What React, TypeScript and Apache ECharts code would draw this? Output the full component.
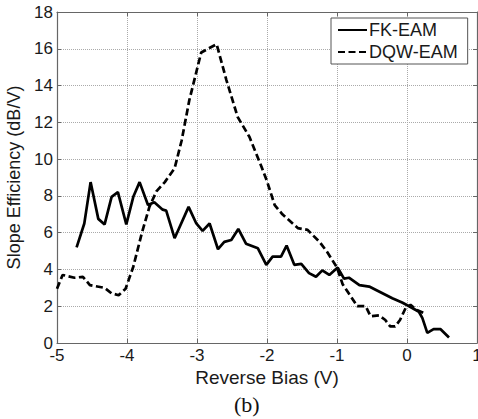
import React, { useEffect, useRef } from "react";
import * as echarts from "echarts";

const fkX = [-4.72, -4.61, -4.52, -4.41, -4.32, -4.22, -4.13, -4.01, -3.91, -3.82, -3.7, -3.61, -3.49, -3.44, -3.32, -3.12, -3.01, -2.92, -2.82, -2.7, -2.61, -2.51, -2.41, -2.3, -2.13, -2.01, -1.92, -1.8, -1.72, -1.61, -1.51, -1.4, -1.3, -1.21, -1.11, -0.99, -0.9, -0.83, -0.68, -0.54, -0.4, -0.21, -0.07, 0.03, 0.17, 0.22, 0.29, 0.38, 0.48, 0.6];
const fkY = [5.2, 6.5, 8.75, 6.75, 6.45, 7.95, 8.2, 6.45, 7.95, 8.75, 7.5, 7.65, 7.25, 7.2, 5.7, 7.4, 6.5, 6.1, 6.5, 5.1, 5.5, 5.6, 6.2, 5.4, 5.15, 4.25, 4.7, 4.7, 5.3, 4.25, 4.3, 3.8, 3.6, 3.95, 3.7, 4.1, 3.5, 3.55, 3.15, 3.07, 2.8, 2.43, 2.2, 2.0, 1.7, 1.35, 0.55, 0.75, 0.75, 0.3];

const dqwX = [-5.0, -4.92, -4.75, -4.63, -4.53, -4.32, -4.22, -4.12, -4.02, -3.91, -3.79, -3.68, -3.58, -3.46, -3.32, -3.22, -3.11, -2.94, -2.72, -2.58, -2.42, -2.25, -2.08, -2.0, -1.89, -1.78, -1.56, -1.42, -1.25, -1.14, -1.0, -0.92, -0.71, -0.59, -0.52, -0.4, -0.31, -0.24, -0.17, -0.1, -0.02, 0.05, 0.14, 0.26];
const dqwY = [2.95, 3.7, 3.55, 3.6, 3.15, 3.0, 2.7, 2.6, 2.95, 4.15, 5.95, 7.4, 8.25, 8.75, 9.5, 11.0, 13.2, 15.8, 16.25, 14.3, 12.3, 11.2, 9.6, 8.8, 7.5, 7.0, 6.25, 6.15, 5.5, 4.95, 4.1, 3.2, 2.0, 2.0, 1.45, 1.5, 1.25, 0.9, 0.9, 1.25, 1.9, 2.07, 1.8, 1.6];

const seriesNames = ["FK-EAM", "DQW-EAM"];
const xTitle = "Reverse Bias (V)";
const yTitle = "Slope Efficiency (dB/V)";
const caption = "(b)";

const FONT = "Liberation Sans, Arial, sans-serif";
const TXT = "#1a1a1a";
const AX = "#666";

export default function App() {
  const ref = useRef<HTMLDivElement>(null);
  useEffect(() => {
    if (!ref.current) return;
    const chart = echarts.init(ref.current, null, { renderer: "svg" });
    const axisLine = { show: true, onZero: false, lineStyle: { color: AX, width: 1.2 } };
    const tick = { show: true, inside: true, length: 4, lineStyle: { color: AX } };
    const split = { show: true, lineStyle: { color: "#aaa", type: "dotted", width: 1 } };
    chart.setOption({
      animation: false,
      backgroundColor: "#fff",
      textStyle: { fontFamily: FONT },
      grid: { left: 57, top: 12, right: 1, bottom: 76, containLabel: false, outerBoundsMode: "none" },
      legend: {
        orient: "vertical",
        left: 331,
        top: 18,
        padding: [3, 10, 3, 6],
        itemGap: 4,
        itemWidth: 29,
        itemHeight: 14,
        borderColor: "#555",
        borderWidth: 1,
        borderRadius: 0,
        backgroundColor: "#fff",
        itemStyle: { opacity: 0 },
        textStyle: { fontSize: 18, color: TXT, fontFamily: FONT, padding: [0, 0, 0, -3] },
        data: seriesNames,
      },
      xAxis: [
        {
          type: "value",
          min: -5,
          max: 1,
          interval: 1,
          name: xTitle,
          nameLocation: "middle",
          nameGap: 19,
          nameTextStyle: { fontSize: 19, color: TXT, fontFamily: FONT },
          axisLine,
          axisTick: tick,
          axisLabel: { fontSize: 17, color: TXT, margin: 5, lineHeight: 14, fontFamily: FONT },
          splitLine: split,
        },
        {
          type: "value",
          position: "top",
          min: -5,
          max: 1,
          interval: 1,
          axisLine,
          axisTick: tick,
          axisLabel: { show: false },
          splitLine: { show: false },
        },
      ],
      yAxis: [
        {
          type: "value",
          min: 0,
          max: 18,
          interval: 2,
          name: yTitle,
          nameLocation: "middle",
          nameGap: 32,
          nameTextStyle: { fontSize: 18, color: TXT, fontFamily: FONT },
          axisLine,
          axisTick: tick,
          axisLabel: { fontSize: 17, color: TXT, margin: 4, lineHeight: 10, fontFamily: FONT },
          splitLine: split,
        },
        {
          type: "value",
          position: "right",
          min: 0,
          max: 18,
          interval: 2,
          axisLine,
          axisTick: tick,
          axisLabel: { show: false },
          splitLine: { show: false },
        },
      ],
      graphic: [
        {
          type: "text",
          left: 234,
          top: 393,
          style: { text: caption, fontSize: 22, fill: "#111", fontFamily: "Liberation Serif, Times New Roman, serif" },
        },
      ],
      series: [
        {
          name: seriesNames[0],
          type: "line",
          data: fkX.map((x, i) => [x, fkY[i]]),
          showSymbol: false,
          symbol: "none",
          lineStyle: { color: "#000", width: 2.7, type: "solid" },
          itemStyle: { color: "#000" },
        },
        {
          name: seriesNames[1],
          type: "line",
          data: dqwX.map((x, i) => [x, dqwY[i]]),
          showSymbol: false,
          symbol: "none",
          lineStyle: { color: "#000", width: 2.7, type: [7, 3.5] },
          itemStyle: { color: "#000" },
        },
      ],
    });
    return () => chart.dispose();
  }, []);
  return <div ref={ref} style={{ position: "fixed", left: 0, top: 0, width: 478, height: 419 }} />;
}
